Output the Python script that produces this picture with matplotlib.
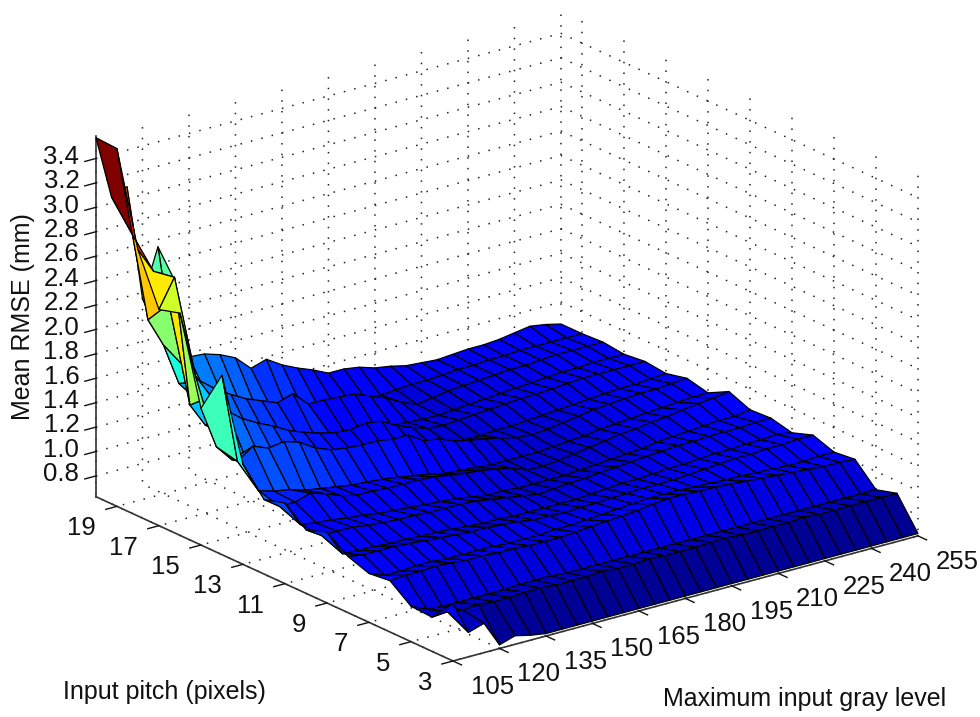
import numpy as np
import matplotlib
matplotlib.use("Agg")
import matplotlib.pyplot as plt
from mpl_toolkits.mplot3d import proj3d

plt.rcParams['font.family'] = ['Liberation Sans', 'DejaVu Sans']

gray_levels = [105, 110, 115, 120, 125, 130, 135, 140, 145, 150, 155, 160, 165, 170, 175, 180,
               185, 190, 195, 200, 205, 210, 215, 220, 225, 230, 235, 240, 245, 250, 255]
pitches = [3, 4, 5, 6, 7, 8, 9, 10, 11, 12, 13, 14, 15, 16, 17, 18, 19, 20]

# mean RMSE per pitch, one value for each gray level
rmse_p03 = [1.10, .83, .87, .66, .70, .67, .65, .65, .65, .65, .65, .65, .65, .65, .65, .65, .65, .65, .65, .65, .65, .65, .65, .65, .65, .65, .65, .65, .65, .65, .65]
rmse_p04 = [.91, .92, .90, .91, .90, .90, .91, .91, .90, .90, .90, .91, .90, .90, .91, .90, .90, .90, .91, .91, .90, .90, .90, .90, .91, .90, .90, .90, .90, .90, .90]
rmse_p05 = [.92, .86, .85, .85, .85, .85, .85, .86, .86, .86, .85, .85, .85, .85, .85, .85, .85, .85, .85, .85, .85, .85, .85, .85, .85, .85, .85, .85, .85, .85, .85]
rmse_p06 = [1.05, 1.06, 1.06, 1.07, 1.06, 1.05, 1.05, 1.04, 1.04, 1.03, 1.03, 1.03, 1.04, 1.05, 1.06, 1.07, 1.08, 1.10, 1.11, 1.11, 1.10, 1.10, 1.09, 1.08, 1.07, 1.06, 1.05, 1.04, 1.03, 1.03, 1.02]
rmse_p07 = [1.03, .98, .98, .99, .99, .98, .98, .98, .98, .97, .97, .97, .98, .98, .99, 1.00, 1.01, 1.02, 1.03, 1.03, 1.03, 1.02, 1.02, 1.01, 1.01, 1.00, 1.00, .99, .99, 1.00, 1.00]
rmse_p08 = [1.09, 1.07, 1.07, 1.07, 1.06, 1.05, 1.04, 1.03, 1.02, 1.02, 1.01, 1.00, .98, .98, .97, .98, .98, .99, .99, 1.00, 1.00, 1.00, 1.01, 1.02, 1.03, 1.04, 1.04, 1.05, 1.05, 1.06, 1.06]
rmse_p09 = [1.21, 1.00, .99, .99, .98, .98, .97, .97, .96, .95, .94, .94, .93, .93, .93, .93, .93, .94, .95, .96, .96, .97, .98, .98, .99, 1.00, 1.00, 1.01, 1.01, 1.02, 1.00]
rmse_p10 = [1.15, 1.07, 1.07, 1.07, 1.05, 1.04, 1.03, 1.03, 1.02, 1.02, 1.02, 1.01, .99, .97, .95, .93, .94, .95, .96, .97, .98, .99, 1.00, 1.01, 1.02, 1.02, 1.03, 1.03, 1.03, 1.04, 1.04]
rmse_p11 = [1.29, 1.08, 1.06, 1.05, 1.03, 1.02, 1.00, .99, .98, .97, .96, .95, .93, .91, .91, .90, .90, .90, .90, .91, .92, .93, .94, .95, .97, .98, .99, 1.00, 1.01, 1.01, 1.03]
rmse_p12 = [1.24, 1.15, 1.15, 1.19, 1.15, 1.10, 1.07, 1.07, 1.06, 1.06, 1.06, 1.05, 1.03, 1.01, 1.00, .98, .95, .90, .90, .91, .93, .95, .97, .99, 1.00, 1.02, 1.03, 1.05, 1.07, 1.08, 1.10]
rmse_p13 = [1.45, 1.20, 1.16, 1.14, 1.10, 1.08, 1.06, 1.04, 1.03, 1.02, 1.00, .98, .96, .93, .92, .91, .90, .90, .90, .90, .91, .92, .93, .95, .96, .97, .98, .99, 1.00, 1.01, 1.01]
rmse_p14 = [2.10, 1.36, 1.45, 1.40, 1.42, 1.38, 1.30, 1.25, 1.23, 1.22, 1.22, 1.20, 1.20, 1.12, 1.10, 1.05, 1.02, 1.00, .97, .94, .93, .94, .96, .98, 1.00, 1.01, 1.02, 1.03, 1.03, 1.04, 1.05]
rmse_p15 = [1.75, 1.40, 1.26, 1.20, 1.16, 1.13, 1.10, 1.08, 1.06, 1.04, 1.02, 1.00, .98, .95, .93, .92, .91, .91, .91, .92, .92, .93, .94, .95, .96, .97, .98, .99, .99, 1.00, 1.01]
rmse_p16 = [2.45, 1.90, 1.70, 1.55, 1.45, 1.38, 1.32, 1.25, 1.20, 1.16, 1.13, 1.12, 1.14, 1.12, 1.05, 1.00, .96, .95, .96, .97, .98, .99, 1.00, 1.00, 1.01, 1.02, 1.03, 1.03, 1.03, 1.03, 1.03]
rmse_p17 = [2.40, 2.63, 1.55, 1.35, 1.26, 1.20, 1.15, 1.11, 1.08, 1.05, 1.03, 1.01, .98, .96, .95, .94, .93, .92, .92, .93, .94, .95, .96, .97, .98, .99, 1.00, 1.00, 1.01, 1.01, 1.01]
rmse_p18 = [2.81, 2.60, 2.30, 1.75, 1.60, 1.50, 1.42, 1.35, 1.30, 1.25, 1.29, 1.17, 1.17, 1.16, 1.15, 1.10, 1.05, .98, .93, .95, .97, .98, .99, 1.00, 1.01, 1.01, 1.02, 1.03, 1.03, 1.03, 1.03]
rmse_p19 = [3.56, 2.82, 2.09, 1.85, 1.50, 1.35, 1.28, 1.24, 1.18, 1.12, 1.08, 1.04, 1.02, 1.00, .99, .98, .97, .96, .97, .98, .98, .99, 1.00, 1.00, 1.01, 1.01, 1.02, 1.02, 1.02, 1.02, 1.02]
rmse_p20 = [3.57, 3.05, 3.10, 2.15, 2.54, 2.25, 1.57, 1.56, 1.52, 1.46, 1.34, 1.38, 1.30, 1.24, 1.19, 1.13, 1.13, 1.11, 1.07, 1.05, 1.02, 1.01, 1.00, 1.01, 1.02, 1.02, 1.03, 1.05, 1.07, 1.05, 1.02]

gray_ticks = [105, 120, 135, 150, 165, 180, 195, 210, 225, 240, 255]
pitch_ticks = [3, 5, 7, 9, 11, 13, 15, 17, 19]
rmse_ticks = [0.8, 1.0, 1.2, 1.4, 1.6, 1.8, 2.0, 2.2, 2.4, 2.6, 2.8, 3.0, 3.2, 3.4]

rmse = np.array([rmse_p03, rmse_p04, rmse_p05, rmse_p06, rmse_p07, rmse_p08, rmse_p09, rmse_p10, rmse_p11,
                 rmse_p12, rmse_p13, rmse_p14, rmse_p15, rmse_p16, rmse_p17, rmse_p18, rmse_p19, rmse_p20])
G, P = np.meshgrid(gray_levels, pitches)

W, H = 980, 717
fig = plt.figure(figsize=(W / 100, H / 100), dpi=100)
ax = fig.add_axes([0, 0, 1, 1], projection='3d', proj_type='ortho')
ax.view_init(elev=20.6, azim=232.6)
ax.set_box_aspect((585, 587.5, 384.6))
ax.set_xlim(105, 255, view_margin=0)
ax.set_ylim(3, 20, view_margin=0)
ax.set_zlim(0.63, 3.58, view_margin=0)

# colour of a face comes from its two corners on the low gray side
norm = plt.Normalize(0.72, rmse.max())
face_values = 0.5 * (rmse[:-1, :-1] + rmse[1:, :-1])
colors = plt.cm.jet(norm(face_values))
ax.plot_surface(G, P, rmse, rstride=1, cstride=1, facecolors=colors, edgecolor='k',
                linewidth=0.9, shade=False, antialiased=True)

ax.set_xticks(gray_ticks)
ax.set_yticks(pitch_ticks)
ax.set_zticks(rmse_ticks)
ax.set_xticklabels([str(v) for v in gray_ticks], ha='left', va='center')
ax.set_yticklabels([str(v) for v in pitch_ticks], ha='right', va='center')
ax.set_zticklabels([f'{v:.1f}' for v in rmse_ticks], va='center')
ax.tick_params(axis='both', labelsize=18.5, colors='#111111')
ax.tick_params(axis='x', pad=8.5)
ax.tick_params(axis='y', pad=7)
ax.tick_params(axis='z', pad=6)

for axis in (ax.xaxis, ax.yaxis, ax.zaxis):
    axis.pane.set_facecolor('none')
    axis.pane.set_edgecolor('none')
    axis.line.set_color('#333333')
    axis.line.set_linewidth(1.2)
    axis._axinfo['grid'].update(color='#222222', linestyle=(0, (1, 6)), linewidth=1.1)
    axis._axinfo['tick'].update(inward_factor=0.3, outward_factor=0.0)
    axis._axinfo['tick']['linewidth'] = {True: 1.0, False: 1.0}


def to_pixels(x, y, z):
    px, py, _ = proj3d.proj_transform(x, y, z, ax.get_proj())
    return ax.transData.transform((px, py))


# scale and shift the square axes so the floor corners land where they are in the picture
fig.canvas.draw()
side = ax.get_position().width * W
span = to_pixels(255, 3, 0.63)[0] - to_pixels(105, 3, 0.63)[0]
side = side * 465 / span
ax.set_position([0, 0, side / W, side / H])
fig.canvas.draw()
x0, y0 = to_pixels(105, 3, 0.63)
left = (453 - x0) / W
bottom = ((H - 661) - y0) / H
ax.set_position([left, bottom, side / W, side / H])

fig.text(63 / W, 1 - 692 / H, 'Input pitch (pixels)', fontsize=18, va='center', color='#111111')
fig.text(663 / W, 1 - 699 / H, 'Maximum input gray level', fontsize=18, va='center', color='#111111')
fig.text(23 / W, 1 - 317 / H, 'Mean RMSE (mm)', fontsize=18, rotation=90, ha='center', va='center', color='#111111')

fig.savefig('out.png', dpi=100)
